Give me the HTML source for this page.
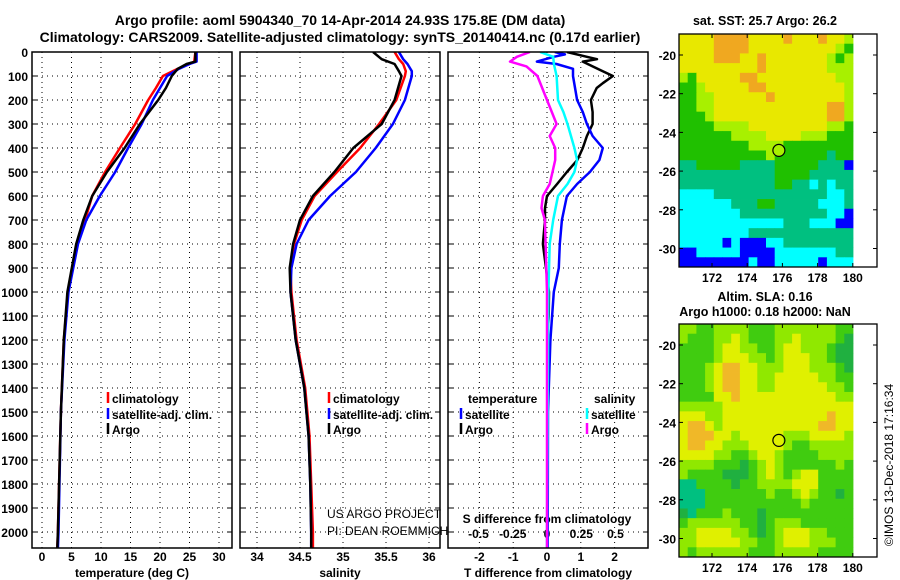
<!DOCTYPE html>
<html><head><meta charset="utf-8">
<style>
body{margin:0;background:#fff;}
svg{display:block;font-family:"Liberation Sans",sans-serif;}
.t{font-weight:bold;font-size:12.5px;fill:#000}
.tk{font-weight:bold;font-size:12px;fill:#000}
.g{stroke:#000;stroke-width:1;stroke-dasharray:1 4}
</style></head>
<body>
<svg id="c" width="900" height="580" xmlns="http://www.w3.org/2000/svg">
<text x="340" y="25" text-anchor="middle" class="t" style="font-size:14px">Argo profile: aoml 5904340_70 14-Apr-2014 24.93S 175.8E (DM data)</text>
<text x="340" y="42" text-anchor="middle" class="t" style="font-size:14px">Climatology: CARS2009. Satellite-adjusted climatology: synTS_20140414.nc (0.17d earlier)</text>
<text x="765" y="25" text-anchor="middle" class="t">sat. SST: 25.7 Argo: 26.2</text>
<text x="765" y="301" text-anchor="middle" class="t">Altim. SLA: 0.16</text>
<text x="765" y="316" text-anchor="middle" class="t">Argo h1000: 0.18 h2000: NaN</text>
<text transform="translate(893,465) rotate(-90)" text-anchor="middle" style="font-size:12px">©IMOS 13-Dec-2018 17:16:34</text>
<g id="plots"></g>
</svg>
<script>
// ---- data ----
const depthTicks=[0,100,200,300,400,500,600,700,800,900,1000,1100,1200,1300,1400,1500,1600,1700,1800,1900,2000];
const tempTicks=[0,5,10,15,20,25,30];
const salTicks=[34,34.5,35,35.5,36];
const tdiffTicks=[-2,-1,0,1,2];
const sdiffTicks=[-0.5,-0.25,0,0.25,0.5];
const tDepth=[0,40,50,70,100,150,200,300,400,500,600,700,800,1000,1200,1500,2000,2070];
const tArgo=[26,26,24.5,23,22,21,19.7,16.6,14,11,8.5,7,5.8,4.3,3.7,3.2,2.7,2.6];
const tClim=[26,25.8,25,23,20.5,19.3,18,15.8,13.2,10.7,8.5,7.3,6,4.4,3.7,3.2,2.7,2.6];
const tSat=[26.2,26.2,25,23.2,21.2,20,18.8,16.9,14.6,12.4,9.8,7.5,6.1,4.5,3.8,3.2,2.8,2.7];
const sDepth=[0,30,50,80,100,200,300,400,500,600,700,800,900,1000,1200,1400,1600,1800,2000,2070];
const sArgo=[35.35,35.45,35.6,35.65,35.68,35.6,35.45,35.12,34.9,34.65,34.5,34.42,34.38,34.39,34.45,34.55,34.6,34.62,34.63,34.63];
const sClim=[35.6,35.65,35.7,35.73,35.72,35.62,35.42,35.2,34.93,34.67,34.52,34.43,34.39,34.4,34.46,34.56,34.61,34.63,34.65,34.65];
const sSat=[35.65,35.7,35.75,35.8,35.8,35.72,35.58,35.38,35.15,34.85,34.6,34.46,34.4,34.39,34.45,34.55,34.6,34.62,34.63,34.63];
const dDepthA=[0,20,30,40,60,80,100,130,150,200,250,300,350,400,450,500,550,600,650,700,800,900,1000,1100,1150];
const dTArgo=[0.59,1.18,1.48,1.06,1.35,1.65,1.95,1.65,1.47,1.3,1.35,1.35,1.18,1.06,0.9,0.59,0.3,0,-0.06,-0.06,-0.12,-0.03,0.06,0.05,0.03];
const dDepthS=[0,10,20,40,50,70,100,200,250,300,350,400,450,500,550,600,700,800,900,1000,1200,1500,2000,2070];
const dTSat=[0.23,0.53,0.2,-0.3,0.28,0.77,0.77,0.89,1.06,1.18,1.35,1.65,1.55,1.27,0.89,0.59,0.44,0.38,0.35,0.2,0.1,0.03,0.02,0.02];
const dSDepthA=[0,20,40,60,100,200,300,350,400,450,500,550,600,650,700,800,1000,2000,2070];
const dSArgo=[-0.125,-0.22,-0.27,-0.15,-0.07,0,0.07,0.02,0.06,0.06,0.04,0.02,-0.03,-0.04,-0.015,-0.01,0,0,0];
const dSDepthS=[0,20,50,100,200,250,300,400,450,500,550,600,700,800,1000,2000,2070];
const dSSat=[-0.05,0.045,0.05,0.07,0.08,0.12,0.15,0.2,0.22,0.2,0.15,0.08,0.045,0.02,0.01,0,0];
const sstCodes=["YYYYOOOOYYYYOYYYOYYL","YYYYOOOOYYYYYYYYYYLG","YYYYOOOYYOYYYYYYYLGL","YYYYYYYYYOYYYYYYYLLL","LGYYYYYOOYYYYYYYYYLL","GGLYYYYYOOYYYYYYYYYL","GGLLYYYYYYOYYYYYYYYL","GGLLYYYYYYYYYYYYYOOL","GGGLYYYYYYYYYYYYYOOL","GGGGLLLLYYYYYYYYYLLG","GGGGGGLLLLYYYYLLLGGG","GGGGGGGGLLLLGGGGGGGG","GGGGGGGGGGLGGGGGGTGG","TTGGGGGTTTTGGGGGTTTB","TTTTTTTTTTTGGGGTTTTT","TTTTTTTTTTTGGTTCTCTT","CCCCTTTTTTTTTTTTTCCT","CCCCCCTTTGGTTTTTCCCT","CCCCCCCTTTTTTTTTTCCB","CCCCCCCCCCCCTTTCCCBB","CCCCCCCCTTTTTTTTTTTT","CCCCCBCBBBCCTTTTTTTT","BBCCCCCBBBBCCCCCCCTT","BBBBBBBBCBBCCCCCBCCC"];
const slaCodes=["LLGGLLLLGGGLLLLLLLGG","LGGGLLYLGGGLLYLLLLGD","GGGGLYYLLGGLYYLLLGDD","GGGGLYYYLLGLYYYLLGDD","GGGLYOOYYLLLYYYLLLGD","GGGLYOOYYLLYYYYYLLGG","GGGLYOOYYLLYYYYYYLLG","GGGGYYOYYYYYYYYYYYLL","LLLLLYYYYYYYYYYYYYYY","YYYLLYYYYYYYYYYYYOYY","YOOYLYYYYYYYYYYYOOYY","YOOOYYLYYYYYLLLYYYYL","YOOYYLLLYYYYLGGLLLLL","YYYYLLGGLYYLGGGGLLLL","LLLLGGGDGLYLGGGGGGLG","LGGGGDDDGLYLGLYYGGGG","TTGGGGDGGLLLLYYYGGGG","TTTGGGGGGGLGGLYLGGDG","TTTGGGGGGGGGGGLGGGGG","DTGGGLGGGDGGGGGGGGGG","GLLLLLLGGDGLLLGGGGGG","LLYYYYLLGDGLYYYLLGGG","LLYYYYYLLGGLYYYLLLGG","LGLLLLLLGGGLLLLLGGGG"];
const mapLonTicks=[172,174,176,178,180];
const mapLatTicks=[-20,-22,-24,-26,-28,-30];
const argoPos=[175.8,-24.93];

// ---- helpers ----
const NS="http://www.w3.org/2000/svg";
const root=document.getElementById('plots');
function mk(tag,attrs,parent){const e=document.createElementNS(NS,tag);for(const k in attrs)e.setAttribute(k,attrs[k]);(parent||root).appendChild(e);return e;}
const Y0=52,PXM=0.24,YB=548;
const yD=d=>Y0+d*PXM;
const xT=v=>42+5.9*v;
const xS=v=>257+86*(v-34);
const xTD=v=>547+33.8*v;
const xSD=v=>547+137*v;
const panels=[[32,232],[240,440],[448,648]];

panels.forEach((p,i)=>{
  depthTicks.forEach(d=>{
    const l=mk('line',{x1:p[0],x2:p[1],y1:yD(d),y2:yD(d),class:'g'});
    
    
    const t1=mk('line',{x1:p[0],x2:p[0]+5,y1:yD(d),y2:yD(d),stroke:'#000'});
    
    
    const t2=mk('line',{x1:p[1]-5,x2:p[1],y1:yD(d),y2:yD(d),stroke:'#000'});
    
    
  });
});
depthTicks.forEach(d=>{
  const t=mk('text',{x:28,y:yD(d)+5,'text-anchor':'end',class:'tk'});
  t.textContent=d;
  
  
});
function xaxis(ticks,fx,p,label,lname){
  ticks.forEach(v=>{
    const l=mk('line',{x1:fx(v),x2:fx(v),y1:Y0,y2:YB,class:'g'});
    
    
    const t=mk('text',{x:fx(v),y:561,'text-anchor':'middle',class:'tk'});
    t.textContent=v;
    
    
  });
  const t=mk('text',{x:(p[0]+p[1])/2,y:577,'text-anchor':'middle',class:'tk'});
  t.textContent=label;
  
  
}
xaxis(tempTicks,xT,panels[0],'temperature (deg C)','temperature-axis-title');
xaxis(salTicks,xS,panels[1],'salinity','salinity-axis-title');
xaxis(tdiffTicks,xTD,panels[2],'T difference from climatology','t-difference-axis-title');
sdiffTicks.forEach(v=>{
  const t=mk('text',{x:xSD(v),y:538,'text-anchor':'middle',class:'tk'});
  t.textContent=v;
  
  
});
const sdl=mk('text',{x:547,y:523,'text-anchor':'middle',class:'tk'});
sdl.textContent='S difference from climatology';



function line(depths,vals,fx,color,name,cp){
  const pts=depths.map((d,i)=>fx(vals[i]).toFixed(1)+','+Math.min(yD(d),YB).toFixed(1)).join(' ');
  const e=mk('polyline',{points:pts,fill:'none',stroke:color,'stroke-width':2.5,'stroke-linejoin':'round','clip-path':'url(#'+cp+')'});
  
  
}
const defs=mk('defs',{});
panels.forEach((p,i)=>{const c=mk('clipPath',{id:'cp'+i},defs);mk('rect',{x:p[0],y:Y0,width:p[1]-p[0],height:YB-Y0},c);});
line(tDepth,tClim,xT,'#ff0000','temperature-climatology-line','cp0');
line(tDepth,tSat,xT,'#0000ff','temperature-satellite-line','cp0');
line(tDepth,tArgo,xT,'#000000','temperature-argo-line','cp0');
line(sDepth,sClim,xS,'#ff0000','salinity-climatology-line','cp1');
line(sDepth,sSat,xS,'#0000ff','salinity-satellite-line','cp1');
line(sDepth,sArgo,xS,'#000000','salinity-argo-line','cp1');
line(dDepthA,dTArgo,xTD,'#000000','t-difference-argo-line','cp2');
line(dDepthS,dTSat,xTD,'#0000ff','t-difference-satellite-line','cp2');
line(dSDepthS,dSSat,xSD,'#00ffff','s-difference-satellite-line','cp2');
line(dSDepthA,dSArgo,xSD,'#ff00ff','s-difference-argo-line','cp2');

panels.forEach(p=>{
  const f=mk('rect',{x:p[0],y:Y0,width:p[1]-p[0],height:YB-Y0,fill:'none',stroke:'#000','stroke-width':1.5});
  
  
});

function leg(x,y,color,label,name){
  const g=mk('g',{});
  
  
  mk('line',{x1:x,x2:x,y1:y-6,y2:y+5,stroke:color,'stroke-width':2.5},g);
  const t=mk('text',{x:x+4,y:y+5,class:'tk'},g);t.textContent=label;
}
leg(108,398,'#ff0000','climatology','legend-climatology');
leg(108,414,'#0000ff','satellite-adj. clim.','legend-satellite');
leg(108,429,'#000000','Argo','legend-argo');
leg(329,398,'#ff0000','climatology','legend-climatology-salinity');
leg(329,414,'#0000ff','satellite-adj. clim.','legend-satellite-salinity');
leg(329,429,'#000000','Argo','legend-argo-salinity');
const lt=mk('text',{x:468,y:403,class:'tk'});lt.textContent='temperature';


const ls=mk('text',{x:594,y:403,class:'tk'});ls.textContent='salinity';


leg(461,414,'#0000ff','satellite','legend-t-satellite');
leg(461,429,'#000000','Argo','legend-t-argo');
leg(587,414,'#00ffff','satellite','legend-s-satellite');
leg(587,429,'#ff00ff','Argo','legend-s-argo');
const u1=mk('text',{x:327,y:518,style:'font-size:12px'});u1.textContent='US ARGO PROJECT';


const u2=mk('text',{x:327,y:535,style:'font-size:12px'});u2.textContent='PI: DEAN ROEMMICH';



const sstCol={O:'#f0a820',Y:'#e8e800',L:'#a8f000',G:'#20c000',T:'#00c080',C:'#00ffff',B:'#0000ff'};
const slaCol={O:'#f0b828',Y:'#e0f000',L:'#90e800',G:'#40cc10',D:'#20b040',T:'#00c080'};
function map(codes,cols,top,name){
  const x0=679,x1=877,xc=853,yTop=top,yBot=top+233;
  const lonX=l=>712+(l-172)*17.6;
  const latY=l=>yTop+21+(-20-l)*19.35;
  const g=mk('g',{});
  
  
  const nr=codes.length,nc=codes[0].length,cw=(xc-x0)/nc,ch=(yBot-yTop)/nr;
  codes.forEach((row,r)=>{for(let c=0;c<nc;c++){
    const cell=mk('rect',{x:(x0+c*cw).toFixed(2),y:(yTop+r*ch).toFixed(2),width:(cw+0.4).toFixed(2),height:(ch+0.4).toFixed(2),fill:cols[row[c]]},g);
    
    
  }});
  mk('rect',{x:x0,y:yTop,width:x1-x0,height:yBot-yTop,fill:'none',stroke:'#000','stroke-width':1.3},g);
  mapLonTicks.forEach(l=>{
    mk('line',{x1:lonX(l),x2:lonX(l),y1:yBot,y2:yBot-4,stroke:'#000'},g);
    mk('line',{x1:lonX(l),x2:lonX(l),y1:yTop,y2:yTop+4,stroke:'#000'},g);
    const t=mk('text',{x:lonX(l),y:yBot+15,'text-anchor':'middle',class:'tk'},g);t.textContent=l;
    
    
  });
  mapLatTicks.forEach(l=>{
    mk('line',{x1:x0,x2:x0+4,y1:latY(l),y2:latY(l),stroke:'#000'},g);
    mk('line',{x1:x1,x2:x1-4,y1:latY(l),y2:latY(l),stroke:'#000'},g);
    const t=mk('text',{x:676,y:latY(l)+5,'text-anchor':'end',class:'tk'},g);t.textContent=l;
    
    
  });
  const m=mk('circle',{cx:lonX(argoPos[0]),cy:latY(argoPos[1]),r:6,fill:name==='sst-map'?'#a8f000':'none',stroke:'#000','stroke-width':1.2},g);
  
  
}
map(sstCodes,sstCol,34,'sst-map');
map(slaCodes,slaCol,324,'sla-map');
</script>
</body></html>
